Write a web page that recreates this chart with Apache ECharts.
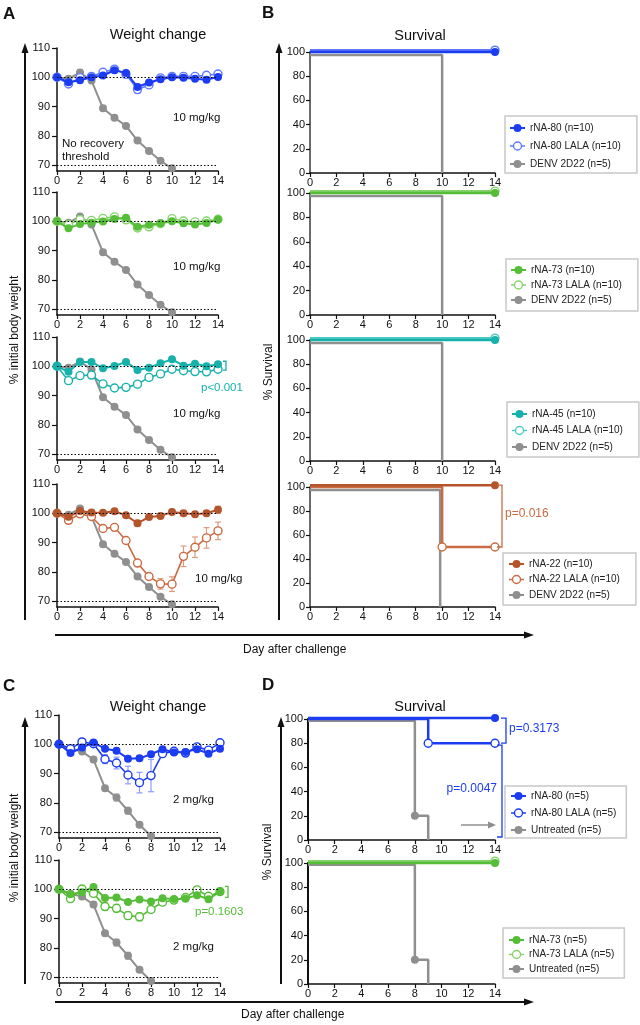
<!DOCTYPE html>
<html><head><meta charset="utf-8">
<script src="https://cdn.jsdelivr.net/npm/echarts@6/dist/echarts.min.js"></script>
<style>html,body{margin:0;padding:0;background:#fff}#c{width:640px;height:1025px}</style>
</head><body><div id="c"></div>
<script>
const FONT = '"Liberation Sans", Arial, Helvetica, sans-serif';

// ---------- shared ticks ----------
const days = [0,1,2,3,4,5,6,7,8,9,10,11,12,13,14];
const weightTicks = [70, 80, 90, 100, 110];
const refLines = [100, 70];

// ---------- Panel A : weight change, 10 mg/kg ----------
const denvWeight    = [100, 99.5, 101.6, 98.9, 89.4, 86.2, 83.4, 78.4, 74.8, 71.5, 68.9];
const denvWeightErr = [0, 0, 0.5, 0.5, 0.6, 0.6, 0.6, 0.6, 0.6, 0.6, 0.5];

const a1Rna80        = [100, 98.3, 99.0, 100.0, 100.6, 102.4, 101.5, 96.7, 98.2, 99.3, 100.0, 99.8, 99.5, 99.2, 100.1];
const a1Rna80Err     = [0, 0.5, 0.5, 0.5, 0.5, 0.6, 0.6, 0.9, 0.6, 0.6, 0.5, 0.5, 0.6, 0.6, 0.6];
const a1Rna80Lala    = [100, 97.7, 99.9, 100.3, 101.7, 102.8, 101.0, 95.8, 97.4, 99.8, 100.3, 100.3, 100.3, 100.7, 101.1];
const a1Rna80LalaErr = [0, 0.5, 0.5, 0.5, 0.5, 0.6, 0.6, 1.2, 0.8, 0.6, 0.5, 0.5, 0.6, 0.6, 0.6];

const a2Rna73        = [100, 97.6, 99.1, 99.5, 99.9, 100.8, 101.2, 98.1, 98.8, 99.3, 100.0, 99.3, 98.9, 99.4, 100.6];
const a2Rna73Err     = [0, 0.5, 0.5, 0.5, 0.5, 0.5, 0.5, 0.8, 0.6, 0.5, 0.5, 0.5, 0.5, 0.5, 0.5];
const a2Rna73Lala    = [100, 98.9, 100.6, 100.3, 101.0, 101.5, 100.5, 97.7, 98.1, 99.2, 100.9, 100.1, 99.8, 100.1, 100.7];
const a2Rna73LalaErr = [0, 0.5, 0.5, 0.5, 0.5, 0.5, 0.6, 0.9, 0.7, 0.5, 0.5, 0.5, 0.5, 0.5, 0.5];

const a3Rna45        = [100, 98.1, 101.5, 101.5, 99.3, 100.1, 101.5, 98.7, 99.5, 101.0, 102.4, 100.2, 100.9, 100.0, 100.7];
const a3Rna45Err     = [0, 0.5, 0.5, 0.5, 0.5, 0.5, 0.5, 0.6, 0.5, 0.5, 0.5, 0.5, 0.5, 0.5, 0.5];
const a3Rna45Lala    = [100, 95.1, 96.8, 97.0, 94.0, 92.6, 92.8, 93.9, 96.2, 97.4, 99.0, 98.5, 98.2, 98.1, 99.0];
const a3Rna45LalaErr = [0, 0.5, 0.5, 0.5, 0.6, 0.6, 0.6, 0.6, 0.6, 0.5, 0.5, 0.5, 0.5, 0.5, 0.5];

const a4Rna22        = [100, 98.8, 100.8, 100.3, 100.2, 100.7, 99.3, 96.6, 98.7, 99.1, 100.4, 100.0, 99.7, 100.0, 101.2];
const a4Rna22Err     = [0, 0.5, 0.5, 0.4, 0.4, 0.5, 0.5, 1.0, 0.5, 0.5, 0.5, 0.8, 0.6, 0.9, 1.2];
const a4Rna22Lala    = [100, 97.6, 99.8, 98.9, 94.8, 95.2, 90.7, 83.0, 78.4, 75.9, 75.8, 85.3, 88.4, 91.6, 94.0];
const a4Rna22LalaErr = [0, 0.5, 0.5, 0.5, 0.6, 0.6, 0.7, 0.8, 1.0, 1.8, 2.5, 3.5, 3.5, 3.5, 3.0];

// ---------- Panel C : weight change, 2 mg/kg ----------
const untreatedWeight    = [100, 98.5, 97.5, 94.8, 85.0, 81.8, 77.3, 72.5, 68.7];
const untreatedWeightErr = [0, 0, 0.5, 1.0, 0.8, 1.2, 1.2, 0.8, 0];

const c1Rna80        = [100, 97.0, 98.9, 100.6, 98.5, 97.8, 95.1, 95.2, 96.6, 98.3, 97.2, 97.4, 98.3, 96.8, 98.5];
const c1Rna80Err     = [0, 0.6, 0.6, 0.6, 0.8, 0.8, 0.9, 0.9, 0.8, 0.6, 0.6, 0.6, 0.7, 0.7, 0.8];
const c1Rna80Lala    = [100, 98.5, 100.8, 100.2, 94.9, 93.6, 89.5, 86.9, 89.3, 96.8, 97.6, 97.0, 99.1, 98.0, 100.5];
const c1Rna80LalaErr = [0, 0.5, 0.5, 0.6, 1.5, 2.0, 3.0, 3.5, 5.5, 0.8, 0.6, 0.6, 0.8, 0.8, 0.8];

const c2Rna73        = [100, 98.3, 99.0, 100.8, 97.0, 97.2, 95.7, 96.5, 95.8, 96.9, 96.7, 96.8, 98.0, 96.6, 99.3];
const c2Rna73Err     = [0, 0.5, 0.5, 0.6, 0.6, 0.6, 0.6, 0.6, 0.6, 0.6, 0.6, 0.6, 0.6, 0.6, 0.6];
const c2Rna73Lala    = [100, 96.8, 100.1, 98.6, 94.1, 93.5, 91.0, 90.6, 93.1, 95.6, 96.3, 97.2, 99.8, 97.6, 99.2];
const c2Rna73LalaErr = [0, 0.6, 0.6, 0.6, 1.3, 1.3, 1.3, 1.4, 0.8, 0.7, 0.7, 0.7, 0.7, 0.7, 0.7];

// ---------- Panels B & D : survival, [day, % survival] step points ----------
const survivalTicks = [0, 20, 40, 60, 80, 100];
const b1Rna80Surv     = [[0, 100], [14, 100]];
const b1Rna80LalaSurv = [[0, 101.5], [14, 101.5]];
const b2Rna73Surv     = [[0, 100], [14, 100]];
const b2Rna73LalaSurv = [[0, 101.5], [14, 101.5]];
const b3Rna45Surv     = [[0, 100], [14, 100]];
const b3Rna45LalaSurv = [[0, 101.5], [14, 101.5]];
const b4Rna22Surv     = [[0, 101.5], [14, 101.5]];
const b4Rna22LalaSurv = [[0, 100], [10, 50], [14, 50]];
const denvSurv        = [[0, 97.5], [10, 0]];
const denvSurvB4      = [[0, 97.5], [9.85, 0]];
const d1Rna80Surv     = [[0, 100.8], [14, 100.8]];
const d1Rna80LalaSurv = [[0, 100], [9, 80], [14, 80]];
const d2Rna73Surv     = [[0, 100], [14, 100]];
const d2Rna73LalaSurv = [[0, 101.5], [14, 101.5]];
const untreatedSurv   = [[0, 98.5], [8, 20], [9, 0]];

// ---------- labels ----------
const NAMES = {
  r80: 'rNA-80 (n=10)', r80L: 'rNA-80 LALA (n=10)',
  r73: 'rNA-73 (n=10)', r73L: 'rNA-73 LALA (n=10)',
  r45: 'rNA-45 (n=10)', r45L: 'rNA-45 LALA (n=10)',
  r22: 'rNA-22 (n=10)', r22L: 'rNA-22 LALA (n=10)',
  denv: 'DENV 2D22 (n=5)',
  d80: 'rNA-80 (n=5)', d80L: 'rNA-80 LALA (n=5)',
  d73: 'rNA-73 (n=5)', d73L: 'rNA-73 LALA (n=5)',
  unt: 'Untreated (n=5)'
};

// ---------- colours ----------
const GREY = '#8f8f8f', GREY_E = '#c2c2c2';
const BLUE = '#1c3cf2', BLUE_L = '#6079ff', BLUE_E = '#8c9cff';
const GREEN = '#55bd38', GREEN_L = '#86d36c', GREEN_E = '#9fdc8a';
const TEAL = '#17b1ab', TEAL_L = '#4fcac4', TEAL_E = '#86dcd8';
const ORANGE = '#b3542a', ORANGE_L = '#c96b42', ORANGE_E = '#dc9c80';

const grids = [], xAxes = [], yAxes = [], series = [], legends = [];
const axisCol = '#111';

function errRender(params, api) {
  const x = api.value(0), y = api.value(1), e = api.value(2);
  const t = api.coord([x, y + e]), b = api.coord([x, y - e]);
  const cap = 3;
  const st = { stroke: api.visual('color'), lineWidth: 1.2, fill: null };
  return { type: 'group', children: [
    { type: 'line', shape: { x1: t[0], y1: t[1], x2: b[0], y2: b[1] }, style: st },
    { type: 'line', shape: { x1: t[0] - cap, y1: t[1], x2: t[0] + cap, y2: t[1] }, style: st },
    { type: 'line', shape: { x1: b[0] - cap, y1: b[1], x2: b[0] + cap, y2: b[1] }, style: st }
  ]};
}

function xAxisCfg(idx) {
  return { gridIndex: idx, type: 'value', min: 0, max: 14, interval: 2,
    axisLine: { onZero: false, lineStyle: { color: axisCol, width: 1.5 } },
    axisTick: { length: 4, lineStyle: { color: axisCol, width: 1.2 } },
    axisLabel: { fontSize: 11, color: axisCol, margin: 4, fontFamily: FONT },
    splitLine: { show: false } };
}

function addWeightGrid(left, top) {
  const idx = grids.length;
  grids.push({ left: left, top: top, width: 161, height: 123 });
  xAxes.push(xAxisCfg(idx));
  yAxes.push({ gridIndex: idx, type: 'value', min: 68, max: 110,
    axisLine: { show: true, onZero: false, lineStyle: { color: axisCol, width: 1.5 } },
    axisTick: { show: true, length: 5, customValues: weightTicks, lineStyle: { color: axisCol, width: 1.2 } },
    axisLabel: { customValues: weightTicks, fontSize: 11, color: axisCol, margin: 7, fontFamily: FONT },
    splitLine: { show: false } });
  return idx;
}

function addSurvGrid(left, top, width, height, yLineColor) {
  const idx = grids.length;
  grids.push({ left: left, top: top, width: width, height: height });
  xAxes.push(xAxisCfg(idx));
  yAxes.push({ gridIndex: idx, type: 'value', min: 0, max: 100, interval: 20,
    axisLine: { show: true, onZero: false, lineStyle: { color: yLineColor, width: 2 } },
    axisTick: { show: true, length: 4, lineStyle: { color: axisCol, width: 1.2 } },
    axisLabel: { fontSize: 11, color: axisCol, margin: 5, fontFamily: FONT },
    splitLine: { show: false } });
  return idx;
}

function addWeight(idx, name, values, errs, color, errColor, open, z, withRef) {
  const s = { type: 'line', name: name, xAxisIndex: idx, yAxisIndex: idx,
    data: values.map((v, i) => [days[i], v]),
    symbol: 'circle', symbolSize: 8, clip: false, silent: true, z: z,
    lineStyle: { color: color, width: open ? 1.6 : 2 },
    itemStyle: open ? { color: '#fff', borderColor: color, borderWidth: 1.4 } : { color: color } };
  if (withRef) {
    s.markLine = { silent: true, symbol: ['none', 'none'], label: { show: false },
      lineStyle: { color: '#000', type: [1.5, 2], width: 1.2 },
      data: refLines.map(v => ({ yAxis: v })) };
  }
  series.push(s);
  if (errs) {
    series.push({ type: 'custom', name: name + ' SEM', xAxisIndex: idx, yAxisIndex: idx, silent: true, z: 1,
      data: values.map((v, i) => [days[i], v, errs[i]]).filter(d => d[2] > 0),
      renderItem: errRender, itemStyle: { color: errColor }, encode: { x: 0, y: 1 } });
  }
}

function addSurv(idx, name, pts, color, open, z) {
  series.push({ type: 'line', name: name, xAxisIndex: idx, yAxisIndex: idx, step: 'end',
    data: pts.map((p, i) => ({ value: p, symbol: (i > 0 && p[1] > 0) ? 'circle' : 'none' })),
    symbol: 'circle', symbolSize: 8, clip: false, silent: true, z: z,
    lineStyle: { color: color, width: 2.5 },
    itemStyle: open ? { color: '#fff', borderColor: color, borderWidth: 1.4 } : { color: color } });
}

function legendItem(name, color, open) {
  return { name: name,
    itemStyle: open ? { color: '#fff', borderColor: color, borderWidth: 1.4 } : { color: color, borderWidth: 0 },
    lineStyle: { color: color, width: open ? 1.5 : 2, type: 'solid' } };
}
function addLegend(left, top, gap, pad, items) {
  legends.push({ left: left, top: top, orient: 'vertical', itemGap: gap, padding: pad,
    itemWidth: 15, itemHeight: 10, borderColor: '#c8c8c8', borderWidth: 1.5, selectedMode: false,
    textStyle: { fontSize: 10, color: '#222', fontFamily: FONT }, data: items });
}

// ---- Survival (added first so legends pick them up) ----
const gB1 = addSurvGrid(310, 52, 185, 121, '#6a6a6a');
addSurv(gB1, NAMES.denv, denvSurv, GREY, false, 2);
addSurv(gB1, NAMES.r80, b1Rna80Surv, BLUE, false, 4);
addSurv(gB1, NAMES.r80L, b1Rna80LalaSurv, BLUE_L, true, 3);
addLegend(505, 116, 8, [7, 16, 4, 4], [legendItem(NAMES.r80, BLUE, false), legendItem(NAMES.r80L, BLUE_L, true), legendItem(NAMES.denv, GREY, false)]);

const gB2 = addSurvGrid(310, 193, 185, 122, '#6a6a6a');
addSurv(gB2, NAMES.denv, denvSurv, GREY, false, 2);
addSurv(gB2, NAMES.r73, b2Rna73Surv, GREEN, false, 4);
addSurv(gB2, NAMES.r73L, b2Rna73LalaSurv, GREEN_L, true, 3);
addLegend(506, 259, 5, [6, 16, 6, 4], [legendItem(NAMES.r73, GREEN, false), legendItem(NAMES.r73L, GREEN_L, true), legendItem(NAMES.denv, GREY, false)]);

const gB3 = addSurvGrid(310, 340, 185, 121, '#6a6a6a');
addSurv(gB3, NAMES.denv, denvSurv, GREY, false, 2);
addSurv(gB3, NAMES.r45, b3Rna45Surv, TEAL, false, 4);
addSurv(gB3, NAMES.r45L, b3Rna45LalaSurv, TEAL_L, true, 3);
addLegend(507, 402, 6.5, [7, 16, 5, 4], [legendItem(NAMES.r45, TEAL, false), legendItem(NAMES.r45L, TEAL_L, true), legendItem(NAMES.denv, GREY, false)]);

const gB4 = addSurvGrid(310, 487, 185, 120, '#6a6a6a');
addSurv(gB4, NAMES.denv, denvSurvB4, GREY, false, 2);
addSurv(gB4, NAMES.r22L, b4Rna22LalaSurv, ORANGE_L, true, 3);
addSurv(gB4, NAMES.r22, b4Rna22Surv, ORANGE, false, 4);
addLegend(503, 553, 5.5, [6, 16, 5, 5], [legendItem(NAMES.r22, ORANGE, false), legendItem(NAMES.r22L, ORANGE_L, true), legendItem(NAMES.denv, GREY, false)]);

const gD1 = addSurvGrid(308, 719, 187, 121, axisCol);
addSurv(gD1, NAMES.unt, untreatedSurv, GREY, false, 2);
addSurv(gD1, NAMES.d80L, d1Rna80LalaSurv, BLUE, true, 3);
addSurv(gD1, NAMES.d80, d1Rna80Surv, BLUE, false, 4);
addLegend(505, 786, 7, [5, 10, 3, 5], [legendItem(NAMES.d80, BLUE, false), legendItem(NAMES.d80L, BLUE, true), legendItem(NAMES.unt, GREY, false)]);

const gD2 = addSurvGrid(308, 863, 187, 121, axisCol);
addSurv(gD2, NAMES.unt, untreatedSurv, GREY, false, 2);
addSurv(gD2, NAMES.d73, d2Rna73Surv, GREEN, false, 4);
addSurv(gD2, NAMES.d73L, d2Rna73LalaSurv, GREEN_L, true, 3);
addLegend(503, 928, 4.5, [7, 10, 4, 5], [legendItem(NAMES.d73, GREEN, false), legendItem(NAMES.d73L, GREEN_L, true), legendItem(NAMES.unt, GREY, false)]);

// ---- Weight ----
const gA1 = addWeightGrid(57, 48);
addWeight(gA1, 'A1 DENV', denvWeight, denvWeightErr, GREY, GREY_E, false, 2, true);
addWeight(gA1, 'A1 LALA', a1Rna80Lala, a1Rna80LalaErr, BLUE_L, BLUE_E, true, 3);
addWeight(gA1, 'A1 rNA-80', a1Rna80, a1Rna80Err, BLUE, BLUE_E, false, 4);

const gA2 = addWeightGrid(57, 192);
addWeight(gA2, 'A2 DENV', denvWeight, denvWeightErr, GREY, GREY_E, false, 2, true);
addWeight(gA2, 'A2 LALA', a2Rna73Lala, a2Rna73LalaErr, GREEN_L, GREEN_E, true, 3);
addWeight(gA2, 'A2 rNA-73', a2Rna73, a2Rna73Err, GREEN, GREEN_E, false, 4);

const gA3 = addWeightGrid(57, 337);
addWeight(gA3, 'A3 DENV', denvWeight, denvWeightErr, GREY, GREY_E, false, 2, true);
addWeight(gA3, 'A3 LALA', a3Rna45Lala, a3Rna45LalaErr, TEAL, TEAL_E, true, 3);
addWeight(gA3, 'A3 rNA-45', a3Rna45, a3Rna45Err, TEAL, TEAL_E, false, 4);

const gA4 = addWeightGrid(57, 484);
addWeight(gA4, 'A4 DENV', denvWeight, denvWeightErr, GREY, GREY_E, false, 2, true);
addWeight(gA4, 'A4 LALA', a4Rna22Lala, a4Rna22LalaErr, ORANGE_L, ORANGE_E, true, 3);
addWeight(gA4, 'A4 rNA-22', a4Rna22, a4Rna22Err, ORANGE, ORANGE_E, false, 4);

const gC1 = addWeightGrid(59, 715);
addWeight(gC1, 'C1 Untreated', untreatedWeight, untreatedWeightErr, GREY, GREY_E, false, 2, true);
addWeight(gC1, 'C1 LALA', c1Rna80Lala, c1Rna80LalaErr, BLUE, BLUE_E, true, 3);
addWeight(gC1, 'C1 rNA-80', c1Rna80, c1Rna80Err, BLUE, BLUE_E, false, 4);

const gC2 = addWeightGrid(59, 860);
addWeight(gC2, 'C2 Untreated', untreatedWeight, untreatedWeightErr, GREY, GREY_E, false, 2, true);
addWeight(gC2, 'C2 LALA', c2Rna73Lala, c2Rna73LalaErr, GREEN, GREEN_E, true, 3);
addWeight(gC2, 'C2 rNA-73', c2Rna73, c2Rna73Err, GREEN, GREEN_E, false, 4);

// ---------- chart ----------
const chart = echarts.init(document.getElementById('c'), null, { renderer: 'canvas', width: 640, height: 1025 });
chart.setOption({
  animation: false,
  backgroundColor: '#fff',
  textStyle: { fontFamily: FONT },
  grid: grids, xAxis: xAxes, yAxis: yAxes, legend: legends, series: series
});

// ---------- annotations ----------
function px(g, x, y) { return chart.convertToPixel({ gridIndex: g }, [x, y]); }
function t(text, x, y, o) {
  o = o || {};
  return { type: 'text', x: x, y: y, rotation: o.rot || 0, z: 50, silent: true,
    style: { text: text, fill: o.color || '#111', font: (o.weight || 'normal') + ' ' + (o.size || 11.5) + 'px ' + FONT,
      textAlign: o.align || 'left', textVerticalAlign: 'middle' } };
}
function seg(x1, y1, x2, y2, color, w) {
  return { type: 'line', z: 50, silent: true, shape: { x1: x1, y1: y1, x2: x2, y2: y2 }, style: { stroke: color, lineWidth: w } };
}
function poly(points, color) {
  return { type: 'polygon', z: 50, silent: true, shape: { points: points }, style: { fill: color } };
}
function bracket(x, y1, y2, tick, color) {
  return { type: 'polyline', z: 50, silent: true, shape: { points: [[x - tick, y1], [x, y1], [x, y2], [x - tick, y2]] },
    style: { stroke: color, lineWidth: 1.3, fill: null } };
}
const K = '#111';
const g = [];
// panel letters
g.push(t('A', 3, 14, { weight: 'bold', size: 17 }), t('B', 262, 13, { weight: 'bold', size: 17 }),
       t('C', 3, 686, { weight: 'bold', size: 17 }), t('D', 262, 685, { weight: 'bold', size: 17 }));
// titles
g.push(t('Weight change', 158, 35, { size: 14.5, align: 'center' }), t('Survival', 420, 36, { size: 14.5, align: 'center' }),
       t('Weight change', 158, 707, { size: 14.5, align: 'center' }), t('Survival', 420, 707, { size: 14.5, align: 'center' }));
// axis titles
g.push(t('% initial body weight', 15, 330, { size: 12, align: 'center', rot: Math.PI / 2 }),
       t('% initial body weight', 15, 848, { size: 12, align: 'center', rot: Math.PI / 2 }),
       t('% Survival', 269, 372, { size: 12, align: 'center', rot: Math.PI / 2 }),
       t('% Survival', 268, 852, { size: 12, align: 'center', rot: Math.PI / 2 }),
       t('Day after challenge', 243, 650, { size: 12 }),
       t('Day after challenge', 241, 1015, { size: 12 }));
// dose labels
g.push(t('10 mg/kg', 173, 118), t('10 mg/kg', 173, 267), t('10 mg/kg', 173, 414), t('10 mg/kg', 195, 579),
       t('2 mg/kg', 173, 800), t('2 mg/kg', 173, 947));
g.push(t('No recovery', 62, 144), t('threshold', 62, 157));
// big arrows
g.push(seg(25, 620, 25, 50, K, 2), poly([[25, 43], [21.5, 53], [28.5, 53]], K));
g.push(seg(279, 620, 279, 50, K, 2), poly([[279, 43], [275.5, 53], [282.5, 53]], K));
g.push(seg(25, 984, 25, 724, K, 2), poly([[25, 717], [21.5, 727], [28.5, 727]], K));
g.push(seg(281, 984, 281, 724, K, 2), poly([[281, 717], [277.5, 727], [284.5, 727]], K));
g.push(seg(55, 635, 526, 635, K, 2), poly([[534, 635], [524, 631.5], [524, 638.5]], K));
g.push(seg(55, 1002, 526, 1002, K, 2), poly([[534, 1002], [524, 998.5], [524, 1005.5]], K));
// p-values and brackets
let p1 = px(gA3, 14, a3Rna45[14]), p2 = px(gA3, 14, a3Rna45Lala[14]);
g.push(bracket(p1[0] + 8, p1[1] - 3, p2[1] + 1, 3, TEAL), t('p<0.001', 201, 388, { color: TEAL }));
p1 = px(gC2, 14, c2Rna73[14]);
g.push(bracket(p1[0] + 8, p1[1] - 5, p1[1] + 6, 3, GREEN), t('p=0.1603', 195, 912, { color: GREEN }));
p1 = px(gB4, 14, b4Rna22Surv[1][1]); p2 = px(gB4, 14, b4Rna22LalaSurv[2][1]);
g.push(bracket(p1[0] + 7, p1[1], p2[1], 5, ORANGE_L), t('p=0.016', 505, 514, { color: ORANGE_L, size: 12 }));
p1 = px(gD1, 14, d1Rna80Surv[1][1]); p2 = px(gD1, 14, d1Rna80LalaSurv[2][1]);
g.push(bracket(p1[0] + 11, p1[1], p2[1], 5, BLUE), t('p=0.3173', 509, 729, { color: BLUE, size: 12 }));
let p3 = px(gD1, 14, 0);
g.push(bracket(p1[0] + 7, p2[1] + 2, p3[1] - 3, 5, BLUE), t('p=0.0047', 497, 789, { color: BLUE, size: 12, align: 'right' }));
g.push(seg(461, 825, 489, 825, GREY, 1.5), poly([[496, 825], [488, 821.5], [488, 828.5]], GREY));

chart.setOption({ graphic: { elements: g } });
</script>
</body></html>
